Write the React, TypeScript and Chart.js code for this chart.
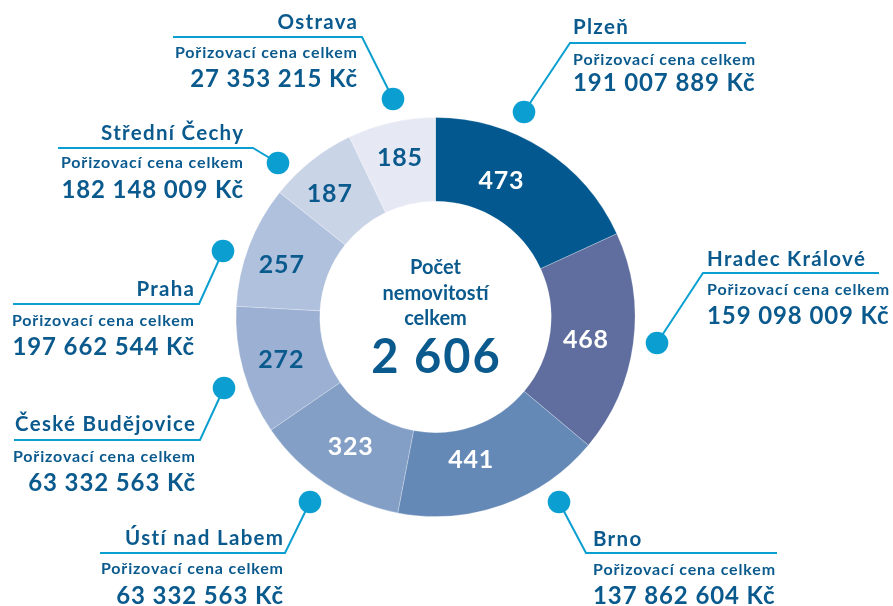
import React, { useEffect, useRef } from "react";
import { Chart, registerables } from "chart.js";

Chart.register(...registerables);

const regions = ["Plzeň", "Hradec Králové", "Brno", "Ústí nad Labem", "České Budějovice", "Praha", "Střední Čechy", "Ostrava"];
const counts = [473, 468, 441, 323, 272, 257, 187, 185];
const prices = ["191 007 889 Kč", "159 098 009 Kč", "137 862 604 Kč", "63 332 563 Kč", "63 332 563 Kč", "197 662 544 Kč", "182 148 009 Kč", "27 353 215 Kč"];
const colors = ["#03598f", "#5f6e9e", "#6589b6", "#839fc6", "#9bb0d2", "#b0c1de", "#cad4e7", "#e6e9f4"];
const labelColors = ["#ffffff", "#ffffff", "#ffffff", "#ffffff", "#0b5a8e", "#0b5a8e", "#0b5a8e", "#0b5a8e"];
const subtitle = "Pořizovací cena celkem";
const centerLines = ["Počet", "nemovitostí", "celkem"];
const totalLabel = "2 606";

const DARK = "#0b5a8e";
const CYAN = "#0a9fd0";
const FONT = "Lato, 'Open Sans', sans-serif";

// annotation layout, absolute px of the reference (converted relative to chart centre)
const REF_CX = 435.5;
const REF_CY = 317;
const layout = [
  { dot: [524, 112], elbow: [570, 43], end: 746, align: "left", tx: 573, ty: 27, sy: 60, vy: 83 },
  { dot: [657, 343], elbow: [703, 273], end: 879, align: "left", tx: 707, ty: 259, sy: 290, vy: 316 },
  { dot: [559, 502], elbow: [586, 553], end: 777, align: "left", tx: 593, ty: 539, sy: 570, vy: 596 },
  { dot: [310, 502], elbow: [285, 553], end: 100, align: "right", tx: 283, ty: 538, sy: 569, vy: 596 },
  { dot: [224, 388], elbow: [200, 440], end: 14, align: "right", tx: 195, ty: 424, sy: 457, vy: 483 },
  { dot: [223, 251], elbow: [199, 304], end: 13, align: "right", tx: 194, ty: 289, sy: 321, vy: 347 },
  { dot: [278, 163], elbow: [253, 148], end: 58, align: "right", tx: 243, ty: 133, sy: 163, vy: 190 },
  { dot: [393, 99], elbow: [362, 37], end: 173, align: "right", tx: 357, ty: 22, sy: 53, vy: 79 },
];
const labelAngleShift = [-0.12, 0.015, 0.1, 0, 0, -0.04, -0.04, 0];
const labelRadiusShift = [-7, -6, -10, -2, 3, 5, 5, 5];

function setSpacing(ctx: any, px: number) {
  if ("letterSpacing" in ctx) ctx.letterSpacing = px + "px";
}

function drawText(ctx: any, text: string, x: number, y: number, align: string, spacing: number) {
  setSpacing(ctx, spacing);
  let xx = x;
  if (align === "right") xx = x + spacing;
  else if (align === "center") xx = x + spacing / 2;
  ctx.textAlign = align;
  ctx.fillText(text, xx, y);
  setSpacing(ctx, 0);
}

const annotPlugin = {
  id: "annot",
  afterDatasetsDraw(chart: any) {
    const ctx = chart.ctx as any;
    const meta = chart.getDatasetMeta(0);
    const a0 = meta.data[0];
    const cx = a0.x;
    const cy = a0.y;
    const ox = cx - REF_CX;
    const oy = cy - REF_CY;
    ctx.save();
    ctx.textBaseline = "middle";
    // segment value labels
    meta.data.forEach((arc: any, i: number) => {
      const mid = (arc.startAngle + arc.endAngle) / 2 + labelAngleShift[i];
      const r = (arc.innerRadius + arc.outerRadius) / 2 + labelRadiusShift[i];
      const x = arc.x + Math.cos(mid) * r;
      const y = arc.y + Math.sin(mid) * r;
      ctx.fillStyle = labelColors[i];
      ctx.font = `700 25px ${FONT}`;
      drawText(ctx, String(counts[i]), x, y, "center", 0.8);
    });
    // centre text
    ctx.fillStyle = DARK;
    ctx.font = `700 20px ${FONT}`;
    centerLines.forEach((t, k) => drawText(ctx, t, cx, cy - 49 + k * 25.5, "center", 0));
    ctx.font = `700 47px ${FONT}`;
    drawText(ctx, totalLabel, cx, cy + 41, "center", 2);
    // callouts
    layout.forEach((L, i) => {
      const dx = L.dot[0] + ox, dy = L.dot[1] + oy;
      const ex = L.elbow[0] + ox, ey = L.elbow[1] + oy;
      ctx.strokeStyle = CYAN;
      ctx.lineWidth = 2;
      ctx.beginPath();
      ctx.moveTo(dx, dy);
      ctx.lineTo(ex, ey);
      ctx.lineTo(L.end + ox, ey);
      ctx.stroke();
      ctx.fillStyle = CYAN;
      ctx.beginPath();
      ctx.arc(dx, dy, 11.3, 0, Math.PI * 2);
      ctx.fill();
      ctx.fillStyle = DARK;
      ctx.font = `700 20.5px ${FONT}`;
      drawText(ctx, regions[i], L.tx + ox, L.ty + oy, L.align, 1.3);
      ctx.font = `700 16px ${FONT}`;
      drawText(ctx, subtitle, L.tx + ox, L.sy + oy, L.align, 0.85);
      ctx.font = `700 24px ${FONT}`;
      drawText(ctx, prices[i], L.tx + ox, L.vy + oy, L.align, 0.9);
    });
    ctx.restore();
  },
};

export default function App() {
  const ref = useRef<HTMLCanvasElement>(null);
  useEffect(() => {
    if (!ref.current) return;
    const chart = new Chart(ref.current, {
      type: "doughnut",
      data: {
        labels: regions,
        datasets: [
          {
            data: counts,
            backgroundColor: colors,
            borderColor: "rgba(255,255,255,0.25)",
            borderWidth: 1,
          },
        ],
      },
      options: {
        responsive: false,
        animation: false,
        cutout: "58%",
        layout: { padding: { top: 117, bottom: 89, left: 235.5, right: 257.5 } },
        plugins: { legend: { display: false }, tooltip: { enabled: false } },
      },
      plugins: [annotPlugin],
    });
    return () => chart.destroy();
  }, []);
  return (
    <div style={{ position: "fixed", left: 0, top: 0, width: 893, height: 606, background: "#fff" }}>
      <canvas ref={ref} width={893} height={606} style={{ display: "block" }} />
    </div>
  );
}
